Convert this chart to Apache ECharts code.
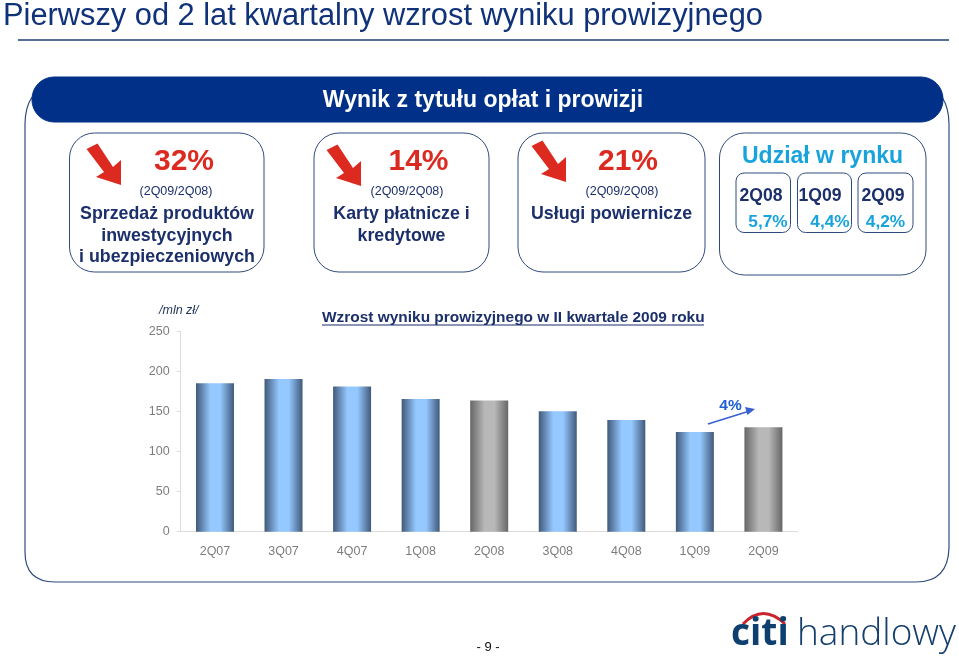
<!DOCTYPE html>
<html><head><meta charset="utf-8">
<style>html,body{margin:0;padding:0;background:#fff}#c{width:959px;height:657px}</style>
<script src="https://cdn.jsdelivr.net/npm/echarts@6/dist/echarts.min.js"></script>
</head><body><div id="c"></div>
<script>
const categories = ['2Q07','3Q07','4Q07','1Q08','2Q08','3Q08','4Q08','1Q09','2Q09'];
const values = [185.5,191,181.5,166,164,150.5,139.5,124.5,130.5];
const greyBars = ['2Q08','2Q09'];
const yTicks = [0,50,100,150,200,250];
const headerText = 'Wynik z tytułu opłat i prowizji';
const slideTitle = 'Pierwszy od 2 lat kwartalny wzrost wyniku prowizyjnego';
const chartTitle = 'Wzrost wyniku prowizyjnego w II kwartale 2009 roku';
const cardPercents = ['32%','14%','21%'];
const cardPeriod = '(2Q09/2Q08)';
const cardLabels = [['Sprzedaż produktów','inwestycyjnych','i ubezpieczeniowych'],['Karty płatnicze i','kredytowe'],['Usługi powiernicze']];
const shareTitle = 'Udział w rynku';
const sharePeriods = ['2Q08','1Q09','2Q09'];
const shareValues = ['5,7%','4,4%','4,2%'];

const F = '"Liberation Sans", Arial, sans-serif';
const NAVY = '#1b2f6b', LINE = '#2f4a7d', RED = '#dc2a20', CYAN = '#19a3dd';
const g = [];
function text(x, y, s, size, fill, o) {
  g.push({type:'text', z:10, x, y, style:Object.assign({text:s, fill, font:(o&&o.w||'normal')+' '+size+'px '+F, textAlign:(o&&o.a)||'center', textVerticalAlign:'middle'},(o&&o.style)||{})});
}
function rr(x, y, w, h, r, o) {
  g.push({type:'rect', z:(o&&o.z)||5, shape:{x,y,width:w,height:h,r}, style:{fill:(o&&o.fill)||'none', stroke:(o&&o.stroke)||LINE, lineWidth:(o&&o.lw)||1}});
}
function seg(x1,y1,x2,y2,stroke,lw,z){ g.push({type:'line', z:z||4, shape:{x1,y1,x2,y2}, style:{stroke, lineWidth:lw}}); }
function curve(x1,y1,cpx1,cpy1,x2,y2,stroke,lw,z){ g.push({type:'bezierCurve', z:z||1, shape:{x1,y1,cpx1,cpy1,x2,y2}, style:{fill:'none', stroke, lineWidth:lw}}); }
function arrow(dx, dy) {
  const p = [[86.5,149],[97.5,143.5],[113,167],[121,160],[121,185],[96,177],[104,172]];
  g.push({type:'polygon', z:6, shape:{points:p.map(q=>[q[0]+dx,q[1]+dy])}, style:{fill:RED}});
}
// slide title
text(3, 16.5, slideTitle, 30.8, '#0f3278', {a:'left'});
seg(18,40,949,40,'#1f3f73',1.3);
// frame
curve(32,97,25,108,25,124,LINE,1.2);
seg(25,124,25,552,LINE,1.2,1);
curve(25,552,25,582,55,582,LINE,1.2);
seg(55,582,916,582,LINE,1.2,1);
curve(916,582,948,582,949,548,LINE,1.2);
seg(949,548,949,124,LINE,1.2,1);
curve(949,124,949,108,942,97,LINE,1.2);
rr(32,77,911,45,22,{fill:'#003087',stroke:'#003087',z:2});
text(483, 100.5, headerText, 23, '#fff', {w:'bold'});
// cards
rr(69.5,133,194.5,139,25); rr(314,133,175,139,25); rr(518,133,187,139,25); rr(719.5,133,206.5,142,25);
arrow(0,0); arrow(240,1); arrow(445,-3);
const cx = [184, 418.5, 628], lx = [167, 401.5, 611.5];
cardPercents.forEach((p,i)=>{
  text(cx[i], 161.5, p, 30, RED, {w:'bold'});
  text([176,407,622][i], 192, cardPeriod, 12.5, NAVY);
  cardLabels[i].forEach((s,j)=>text(lx[i], 214.5+j*21.5, s, 17.8, NAVY, {w:'bold'}));
});
text(822.5, 156.5, shareTitle, 23, CYAN, {w:'bold'});
[[736,54.5],[797.5,54],[858,55]].forEach(b=>rr(b[0],173,b[1],59.5,8));
const px = [761,820,883], vx = [768,830,885.5];
sharePeriods.forEach((s,i)=>{ text(px[i],196.5,s,17.6,NAVY,{w:'bold'}); text(vx[i],222.5,shareValues[i],17.3,CYAN,{w:'bold'}); });
// chart annotations
text(159, 310.5, '/mln zł/', 12.5, '#1f3558', {a:'left', style:{font:'italic 12.5px '+F}});
text(322, 317.5, chartTitle, 15.45, NAVY, {a:'left', w:'bold'});
seg(322,325,704,325,NAVY,1.2);
text(730.5, 405.5, '4%', 15.5, '#2060d0', {w:'bold'});
seg(708,424,748,411.5,'#3a5fd0',1.5,6);
g.push({type:'polygon', z:6, shape:{points:[[755,409],[745,407],[747.5,415]]}, style:{fill:'#3a5fd0'}});
// footer
text(488, 647, '- 9 -', 13, '#111');
// logo
text(731, 634, 'citi', 37, '#0f3f6e', {a:'left', style:{font:'bold 37px "Open Sans", sans-serif'}});
text(797, 634, 'handlowy', 37, '#153f6d', {a:'left', style:{font:'300 37px "Open Sans", sans-serif'}});
curve(743,624,763,603,785,624,'#c8242b',3,7);

const grad = (a,b) => ({type:'linear',x:0,y:0,x2:1,y2:0,colorStops:[{offset:0,color:a},{offset:.38,color:b},{offset:.64,color:b},{offset:1,color:a}]});
const barData = categories.map((c,i)=>({value:values[i], itemStyle:{color: greyBars.includes(c) ? grad('#666666','#b8b8b8') : grad('#41597a','#94c8ff')}}));
const chart = echarts.init(document.getElementById('c'), null, {renderer:'canvas'});
const tickLine = {lineStyle:{color:'#dcdcdc'}};
chart.setOption({
  animation:false,
  grid:{left:180.7, top:331.7, width:617, height:200, containLabel:false},
  xAxis:[{type:'category', data:categories, axisLine:{lineStyle:{color:'#dcdcdc'}},
    axisTick:Object.assign({alignWithLabel:false,length:3},tickLine),
    axisLabel:{color:'#7d7d7d', fontFamily:F, fontSize:12.5, margin:13}},
    {type:'category', position:'bottom', data:categories, axisLine:{show:false},
    axisTick:Object.assign({inside:true,length:3},tickLine), axisLabel:{show:false}}],
  yAxis:{type:'value', min:yTicks[0], max:yTicks[yTicks.length-1], interval:50,
    axisLine:{show:true,lineStyle:{color:'#dcdcdc'}}, axisTick:Object.assign({show:true,length:4},tickLine),
    splitLine:{show:false}, axisLabel:{color:'#7d7d7d', fontFamily:F, fontSize:12.5, margin:11}},
  series:[{type:'bar', data:barData, barWidth:38, xAxisIndex:0}],
  graphic:{elements:g}
});
</script></body></html>
